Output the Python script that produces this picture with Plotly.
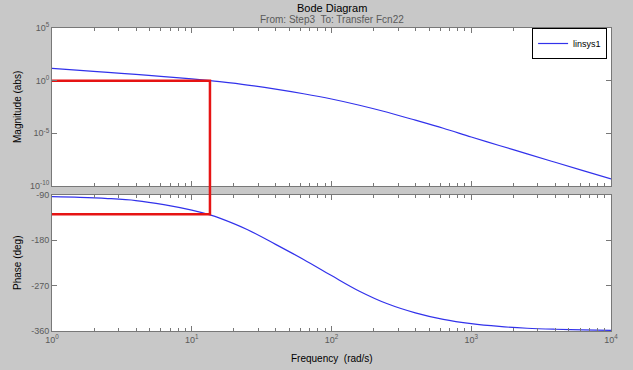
import plotly.graph_objects as go

# ---- data ----
freq = [1, 1.585, 2.512, 3.981, 6.31, 10, 13.5, 15.85, 25.12, 39.81, 63.1, 100, 158.5,
        251.2, 398.1, 631, 1000, 1585, 2512, 3981, 6310, 10000]
magnitude = [14.8, 9.55, 6.17, 3.89, 2.45, 1.48, 1.0, 0.794, 0.380, 0.158, 0.0575, 0.0182,
             0.00468, 0.001, 1.78e-4, 3.02e-5, 4.47e-6, 7.08e-7, 1.12e-7, 1.78e-8, 2.88e-9, 4.68e-10]
phase = [-93.4, -94.6, -97, -101, -109, -120, -129.5, -136, -159, -188, -218, -250, -281,
         -306, -324, -337, -345.5, -351, -354.5, -356.5, -357.8, -358.7]

marker_freq = 13.5
marker_mag = 1.0
marker_phase = -128

mag_tickvals = [1e-10, 1e-5, 1, 1e5]
mag_ticktext = ["10<sup>-10</sup>", "10<sup>-5</sup>", "10<sup>0</sup>", "10<sup>5</sup>"]
phase_tickvals = [-360, -270, -180, -90]
phase_ticktext = ["-360", "-270", "-180", "-90"]
freq_tickvals = [1, 10, 100, 1000, 10000]
freq_ticktext = ["10<sup>0</sup>", "10<sup>1</sup>", "10<sup>2</sup>", "10<sup>3</sup>", "10<sup>4</sup>"]

# ---- layout constants ----
W, H = 633, 370
L, R, T, B = 52, 22, 28, 39
plot_h = H - T - B
def py(p):
    return (H - B - p) / plot_h

top_dom = [py(186), 1.0]
bot_dom = [0.0, py(195)]

BLUE = "rgb(50,50,235)"
RED = "rgb(230,20,20)"
AX = "rgb(120,120,120)"
TXT = "rgb(90,90,90)"
BG = "rgb(200,200,200)"
FONT = "Liberation Sans, Arial"

minor_vals = [m * 10 ** k for k in range(0, 4) for m in range(2, 10)]

fig = go.Figure()
fig.add_trace(go.Scatter(x=freq, y=magnitude, mode="lines", name="linsys1",
                         line=dict(color=BLUE, width=1.2, shape="spline"),
                         xaxis="x", yaxis="y"))
fig.add_trace(go.Scatter(x=freq, y=phase, mode="lines", name="linsys1", showlegend=False,
                         line=dict(color=BLUE, width=1.2, shape="spline"),
                         xaxis="x2", yaxis="y2"))
# red marker lines
fig.add_trace(go.Scatter(x=[freq[0], marker_freq, marker_freq], y=[marker_mag, marker_mag, mag_tickvals[0]],
                         mode="lines", showlegend=False, hoverinfo="skip",
                         line=dict(color=RED, width=2.5), xaxis="x", yaxis="y"))
fig.add_trace(go.Scatter(x=[freq[0], marker_freq, marker_freq], y=[marker_phase, marker_phase, phase_tickvals[-1]],
                         mode="lines", showlegend=False, hoverinfo="skip",
                         line=dict(color=RED, width=2.5), xaxis="x2", yaxis="y2"))
fig.add_shape(type="line", xref="x", yref="paper", x0=marker_freq, x1=marker_freq,
              y0=bot_dom[1], y1=top_dom[0], line=dict(color=RED, width=2.5))

axis_common = dict(showline=True, linecolor=AX, linewidth=1, mirror="ticks",
                   ticks="inside", ticklen=5, tickcolor=AX, showgrid=False, zeroline=False,
                   tickfont=dict(family=FONT, size=9, color=TXT))

fig.update_layout(
    width=W, height=H,
    margin=dict(l=L, r=R, t=T, b=B),
    paper_bgcolor=BG, plot_bgcolor="white",
    xaxis=dict(type="log", range=[0, 4], domain=[0, 1], anchor="y", showticklabels=False,
               tickvals=freq_tickvals, ticktext=freq_ticktext,
               minor=dict(tickvals=minor_vals, ticks="inside", ticklen=3, tickcolor=AX),
               **axis_common),
    yaxis=dict(type="log", range=[-10, 5], domain=top_dom, anchor="x",
               tickvals=mag_tickvals, ticktext=mag_ticktext, **axis_common),
    xaxis2=dict(type="log", range=[0, 4], domain=[0, 1], anchor="y2",
                tickvals=freq_tickvals, ticktext=freq_ticktext,
                minor=dict(tickvals=minor_vals, ticks="inside", ticklen=3, tickcolor=AX),
                **axis_common),
    yaxis2=dict(range=[-360, -90], domain=bot_dom, anchor="x2",
                tickvals=phase_tickvals, ticktext=phase_ticktext, **axis_common),
    showlegend=True,
    legend=dict(x=0.993, y=1.0, xanchor="right", yanchor="top",
                bgcolor="white", bordercolor="black", borderwidth=1,
                font=dict(family=FONT, size=9, color="black"),
                itemwidth=30, tracegroupgap=0),
    font=dict(family=FONT),
)

fig.add_annotation(text="Bode Diagram", xref="paper", yref="paper", x=0.5, y=py(8),
                   showarrow=False, font=dict(size=11, color="black"), xanchor="center", yanchor="middle")
fig.add_annotation(text="From: Step3\u00a0 To: Transfer Fcn22", xref="paper", yref="paper",
                   x=0.5, y=py(20), showarrow=False, font=dict(size=10, color=TXT),
                   xanchor="center", yanchor="middle")
fig.add_annotation(text="Magnitude (abs)", xref="paper", yref="paper", x=(17 - L) / (W - L - R),
                   y=py(107), textangle=-90, showarrow=False, font=dict(size=10, color="black"),
                   xanchor="center", yanchor="middle")
fig.add_annotation(text="Phase (deg)", xref="paper", yref="paper", x=(17 - L) / (W - L - R),
                   y=py(263), textangle=-90, showarrow=False, font=dict(size=10, color="black"),
                   xanchor="center", yanchor="middle")
fig.add_annotation(text="Frequency\u00a0 (rad/s)", xref="paper", yref="paper", x=0.5, y=py(358),
                   showarrow=False, font=dict(size=10, color="black"), xanchor="center", yanchor="middle")

fig.write_html("out.html", config={"displayModeBar": False},
               post_script="document.body.style.margin='0';")
